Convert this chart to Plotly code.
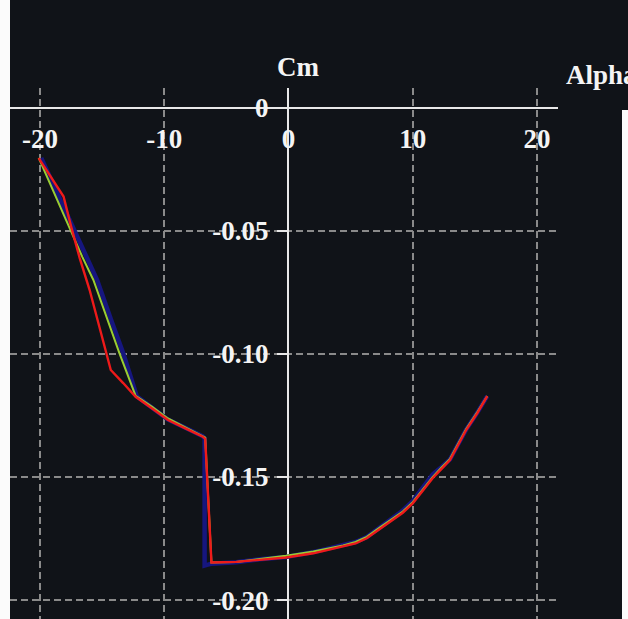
import plotly.graph_objects as go

# ---- data ----
alpha_red = [-20.1, -19.0, -18.1, -17.5, -16.8, -16.0, -15.0, -14.3, -13.3, -12.3,
             -11.0, -9.7, -8.3, -6.9, -6.7, -6.2, -4.2, -2.3, -0.2, 2.0, 4.4, 5.4,
             6.3, 7.4, 8.4, 9.2, 10.0, 10.8, 11.6, 12.3, 13.0, 13.6, 14.3, 15.2, 16.0]
cm_red = [-0.0204, -0.0290, -0.0360, -0.0480, -0.0610, -0.0740, -0.0928, -0.1065, -0.1118, -0.1174,
          -0.1220, -0.1268, -0.1302, -0.1336, -0.1345, -0.1847, -0.1845, -0.1836, -0.1827, -0.1810, -0.1783, -0.1770,
          -0.1749, -0.1709, -0.1675, -0.1645, -0.1607, -0.1558, -0.1505, -0.1468, -0.1431, -0.1375, -0.1309, -0.1240, -0.1171]

alpha_green = [-20.1, -18.9, -17.6, -16.6, -15.7, -14.6, -13.6, -12.3,
               -11.0, -9.7, -8.3, -6.9, -6.7, -6.2, -4.2, -2.3, -0.2, 2.0, 4.4, 5.4,
               6.3, 7.4, 8.4, 9.2, 10.0, 10.8, 11.6, 12.3, 13.0, 13.6, 14.3, 15.2, 16.0]
cm_green = [-0.0203, -0.0342, -0.0489, -0.0604, -0.0699, -0.0858, -0.0997, -0.1170,
            -0.1214, -0.1262, -0.1298, -0.1332, -0.1340, -0.1847, -0.1845, -0.1833, -0.1820, -0.1803, -0.1778, -0.1764,
            -0.1743, -0.1703, -0.1668, -0.1640, -0.1602, -0.1552, -0.1500, -0.1462, -0.1426, -0.1370, -0.1305, -0.1236, -0.1171]

alpha_blue = [-19.9, -18.6, -17.3, -16.3, -15.4, -14.3, -13.3, -12.2,
              -11.0, -9.7, -8.3, -6.9, -6.75, -6.75, -6.2, -4.2, -2.3, -0.2, 2.0, 4.4, 5.4,
              6.3, 7.4, 8.4, 9.2, 10.0, 10.8, 11.6, 12.3, 13.0, 13.6, 14.3, 15.2, 16.0]
cm_blue = [-0.0203, -0.0345, -0.0489, -0.0604, -0.0699, -0.0858, -0.0997, -0.1172,
           -0.1218, -0.1266, -0.1300, -0.1334, -0.1343, -0.1860, -0.1852, -0.1846, -0.1834, -0.1825, -0.1805, -0.1778, -0.1764,
           -0.1744, -0.1705, -0.1668, -0.1636, -0.1598, -0.1545, -0.1490, -0.1460, -0.1428, -0.1372, -0.1307, -0.1238, -0.1171]

x_ticks = [-20, -10, 0, 10, 20]
x_tick_labels = ["-20", "-10", "0", "10", "20"]
y_ticks = [0, -0.05, -0.10, -0.15, -0.20]
y_tick_labels = ["0", "-0.05", "-0.10", "-0.15", "-0.20"]

# ---- layout geometry ----
W, H = 628, 619
L, R, T, B = 10, 70, 88, 0
pw, ph = W - L - R, H - T - B

BG = "#101318"
FONT = dict(family="Liberation Serif, Times New Roman, serif", size=27, color="#f4f4f4", weight="bold")

fig = go.Figure()
fig.add_trace(go.Scatter(x=alpha_blue, y=cm_blue, mode="lines",
                         line=dict(color="#16167e", width=4.5), showlegend=False, hoverinfo="skip"))
fig.add_trace(go.Scatter(x=alpha_green, y=cm_green, mode="lines",
                         line=dict(color="#9acd32", width=2), showlegend=False, hoverinfo="skip"))
fig.add_trace(go.Scatter(x=alpha_red, y=cm_red, mode="lines",
                         line=dict(color="#ee1a1a", width=2.4), showlegend=False, hoverinfo="skip"))

x_pos_of_axis = (H - B - 108) / ph   # paper y where Cm = 0
y_pos_of_axis = (289 - L) / pw       # paper x where Alpha = 0

fig.update_layout(
    width=W, height=H,
    margin=dict(l=L, r=R, t=T, b=B, pad=0),
    paper_bgcolor=BG, plot_bgcolor=BG,
    showlegend=False,
    xaxis=dict(
        range=[-22.41, 21.69], tickvals=x_ticks, ticktext=x_tick_labels,
        anchor="free", position=x_pos_of_axis,
        showgrid=True, gridcolor="#8a8a8a", gridwidth=2, griddash="7px,4px",
        zeroline=True, zerolinecolor="#e8e8e8", zerolinewidth=2,
        showline=False, ticks="", ticklabelstandoff=12,
        tickfont=FONT, fixedrange=True,
    ),
    yaxis=dict(
        range=[-0.2077, 0.00813], tickvals=y_ticks, ticktext=y_tick_labels,
        anchor="free", position=y_pos_of_axis,
        showgrid=True, gridcolor="#8a8a8a", gridwidth=2, griddash="7px,4px",
        zeroline=True, zerolinecolor="#e8e8e8", zerolinewidth=2,
        showline=False, ticks="outside", ticklen=12, tickwidth=2, tickcolor="#e8e8e8",
        ticklabelstandoff=3, tickfont=FONT, fixedrange=True,
    ),
    annotations=[
        dict(text="Cm", xref="paper", yref="paper", x=(298 - L) / pw, y=(H - 67) / ph,
             xanchor="center", yanchor="middle", showarrow=False, font=FONT),
        dict(text="Alpha", xref="paper", yref="paper", x=(564 - L) / pw, y=(H - 75) / ph,
             xanchor="left", yanchor="middle", showarrow=False, font=FONT),
    ],
    shapes=[
        dict(type="rect", xref="paper", yref="paper", x0=(0 - L) / pw, x1=0, y0=-0.01, y1=(H + 5) / ph,
             fillcolor="#fbfbfb", line=dict(width=0), layer="above"),
        dict(type="rect", xref="paper", yref="paper", x0=(622 - L) / pw, x1=(W + 5 - L) / pw,
             y0=-0.01, y1=(H - 110) / ph,
             fillcolor="#fbfbfb", line=dict(width=0), layer="above"),
    ],
)

fig.write_html(
    "out.html",
    config={"displayModeBar": False},
    post_script="document.body.style.margin='0';document.body.style.overflow='hidden';",
)
